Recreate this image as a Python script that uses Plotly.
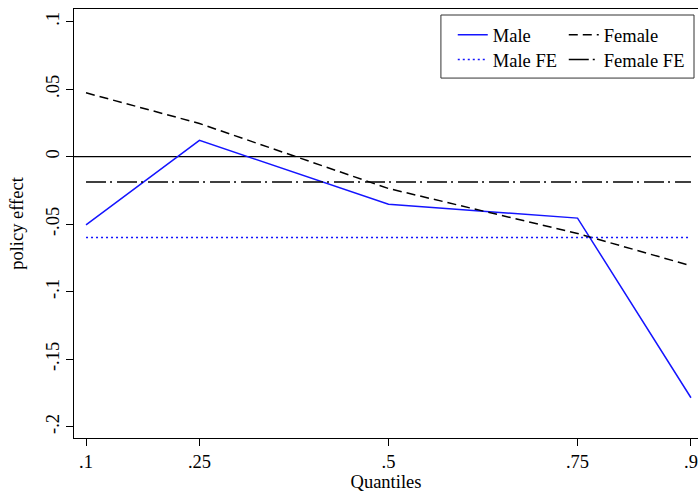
import plotly.graph_objects as go

# Quantile regression estimates of the policy effect
quantiles = [0.1, 0.25, 0.5, 0.75, 0.9]
male = [-0.0505, 0.0121, -0.0352, -0.0455, -0.1786]
female = [0.0473, 0.0246, -0.0236, -0.0569, -0.0808]

# Fixed-effects estimates (constant across quantiles)
male_fe = -0.0599
female_fe = -0.0187

x_tickvals = [0.1, 0.25, 0.5, 0.75, 0.9]
x_ticktext = [".1", ".25", ".5", ".75", ".9"]
y_tickvals = [0.1, 0.05, 0, -0.05, -0.1, -0.15, -0.2]
y_ticktext = [".1", ".05", "0", "-.05", "-.1", "-.15", "-.2"]

FONT = "Liberation Serif"
FS = 18.5
BLUE = "#1414ff"

fig = go.Figure()

fig.add_trace(go.Scatter(
    x=quantiles, y=male, mode="lines", name="Male", legendwidth=66,
    line=dict(color=BLUE, width=1.5), legend="legend"))
fig.add_trace(go.Scatter(
    x=quantiles, y=female, mode="lines", name="Female", legendwidth=70,
    line=dict(color="black", width=1.5, dash="9px,5px"), legend="legend"))
fig.add_trace(go.Scatter(
    x=[quantiles[0], quantiles[-1]], y=[male_fe, male_fe], mode="lines", name="Male FE",
    legendwidth=66,
    line=dict(color=BLUE, width=1.5, dash="2px,3px"), legend="legend2"))
fig.add_trace(go.Scatter(
    x=[quantiles[0], quantiles[-1]], y=[female_fe, female_fe], mode="lines", name="Female FE",
    legendwidth=82,
    line=dict(color="black", width=1.5, dash="20px,4px,2px,5px"), legend="legend2"))

x_range = [0.0841, 0.9093]
y_range = [-0.2084, 0.1094]

# zero reference line
fig.add_shape(type="line", xref="x", yref="y", x0=x_range[0], x1=quantiles[-1], y0=0, y1=0,
              line=dict(color="black", width=1.3), layer="below")

# legend frame enclosing both legend rows
fig.add_shape(type="rect", xref="paper", yref="paper",
              x0=0.588, x1=0.9936, y0=0.839, y1=0.986,
              line=dict(color="#333333", width=1))

legend_common = dict(
    orientation="h", xanchor="left", yanchor="middle",
    bgcolor="rgba(0,0,0,0)", borderwidth=0,
    font=dict(family=FONT, size=FS, color="black"),
    itemwidth=30,
)
fig.update_layout(
    legend=dict(x=0.607, y=0.939, **legend_common),
    legend2=dict(x=0.607, y=0.881, **legend_common),
)

fig.update_xaxes(
    range=x_range, tickvals=x_tickvals, ticktext=x_ticktext,
    showline=True, linecolor="black", linewidth=1.2, mirror=True,
    ticks="outside", ticklen=7, tickcolor="black", tickwidth=1,
    showgrid=False, zeroline=False,
    tickfont=dict(family=FONT, size=FS, color="black"),
    title=dict(text="Quantiles", font=dict(family=FONT, size=FS, color="black"), standoff=2),
)
fig.update_yaxes(
    range=y_range, tickvals=y_tickvals, ticktext=y_ticktext, tickangle=-90,
    showline=True, linecolor="black", linewidth=1.2,
    ticks="outside", ticklen=7, tickcolor="black", tickwidth=1,
    showgrid=False, zeroline=False,
    tickfont=dict(family=FONT, size=FS, color="black"),
    title=dict(text="policy effect", font=dict(family=FONT, size=FS, color="black"), standoff=14),
)

fig.update_layout(
    width=698, height=496,
    margin=dict(l=74, r=0, t=9, b=58),
    paper_bgcolor="white", plot_bgcolor="white",
    showlegend=True,
)

fig.write_html("out.html")
